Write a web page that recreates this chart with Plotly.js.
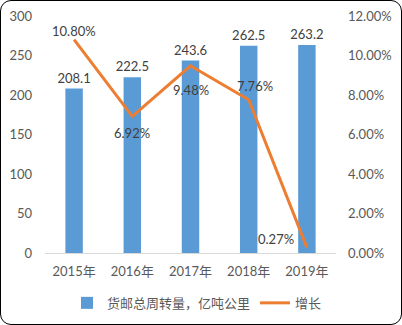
<!DOCTYPE html>
<html><head><meta charset="utf-8">
<script src="https://cdn.plot.ly/plotly-3.0.1.min.js"></script>
<style>
html,body{margin:0;padding:0;background:#fff;}
#wrap{position:relative;width:402px;height:325px;}
#chart{position:absolute;left:0;top:0;width:402px;height:325px;}
#border{position:absolute;left:0;top:0;width:402px;height:325px;box-sizing:border-box;border:1px solid #000;border-radius:11px;pointer-events:none;}
</style></head>
<body>
<div id="wrap"><div id="chart"></div><div id="border"></div></div>
<script>
const years = ['2015年','2016年','2017年','2018年','2019年'];
const volume = [208.1, 222.5, 243.6, 262.5, 263.2];
const growth = [0.1080, 0.0692, 0.0948, 0.0776, 0.0027];
const growthLabels = ['10.80%','6.92%','9.48%','7.76%','0.27%'];
const leftTicks = [0,50,100,150,200,250,300];
const rightTicks = [0,0.02,0.04,0.06,0.08,0.10,0.12];
const rightTickLabels = ['0.00%','2.00%','4.00%','6.00%','8.00%','10.00%','12.00%'];

const FONT = 'Lato, "Noto Sans CJK SC", sans-serif';
const TXT = '#595959';
const labelShift = [[0,9],[0,-17],[0,-24],[6,14],[-31,9]];

const annotations = growth.map((g,i)=>({
  x: years[i], y: g, xref:'x', yref:'y2', text: growthLabels[i], showarrow:false,
  xshift: labelShift[i][0], yshift: labelShift[i][1],
  font:{family:FONT,size:13,color:'#404040'}
}));

const data = [
  {type:'bar', x:years, y:volume, name:'货邮总周转量，亿吨公里', marker:{color:'#5B9BD5'},
   width:0.3, text:volume.map(v=>v.toFixed(1)), textposition:'outside', cliponaxis:false,
   constraintext:'none',
   textfont:{family:FONT,size:13,color:'#404040'}, hoverinfo:'none'},
  {type:'scatter', mode:'lines', x:years, y:growth, yaxis:'y2', name:'增长',
   line:{color:'#ED7D31', width:3}, hoverinfo:'none'}
];

const layout = {
  width:402, height:325,
  margin:{l:45, r:65.5, t:16, b:72},
  paper_bgcolor:'rgba(0,0,0,0)', plot_bgcolor:'rgba(0,0,0,0)',
  font:{family:FONT, size:13, color:TXT},
  showlegend:true,
  legend:{orientation:'h', xref:'container', yref:'container', x:0.49, xanchor:'center', y:0.068, yanchor:'middle',
          font:{family:FONT,size:13,color:TXT}, itemwidth:30},
  bargap:0.7,
  xaxis:{type:'category', showgrid:false, showline:true, linecolor:'#D9D9D9', linewidth:1,
         ticks:'', tickfont:{family:FONT,size:13,color:TXT}, ticklabelstandoff:6, zeroline:false, fixedrange:true},
  yaxis:{range:[0,300], tickvals:leftTicks, showgrid:false, zeroline:false, showline:false, ticks:'',
         tickfont:{family:FONT,size:13,color:TXT}, ticklabelstandoff:12},
  yaxis2:{range:[0,0.12], overlaying:'y', side:'right', tickvals:rightTicks, ticktext:rightTickLabels,
          showgrid:false, zeroline:false, showline:false, ticks:'',
          tickfont:{family:FONT,size:13,color:TXT}, ticklabelstandoff:11},
  annotations:annotations
};

Plotly.newPlot('chart', data, layout, {displayModeBar:false, staticPlot:true});
</script>
</body></html>
